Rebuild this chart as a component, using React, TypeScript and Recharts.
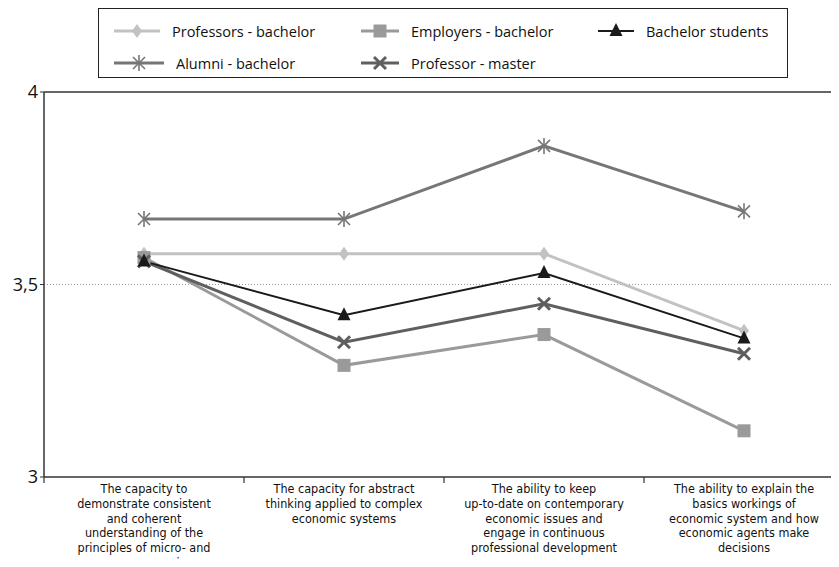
import React from "react";
import { LineChart, Line, XAxis, YAxis, ReferenceLine } from "recharts";

const skills = [
  "Consistent understanding of micro- and macroeconomics",
  "Abstract thinking",
  "Keeping up-to-date",
  "Explaining economic system",
];

const skillLabels = [
  [
    "The capacity to",
    "demonstrate consistent",
    "and coherent",
    "understanding of the",
    "principles of micro- and",
    "macroeconomics",
  ],
  ["The capacity for abstract", "thinking applied to complex", "economic systems"],
  [
    "The ability to keep",
    "up-to-date on contemporary",
    "economic issues and",
    "engage in continuous",
    "professional development",
  ],
  [
    "The ability to explain the",
    "basics workings of",
    "economic system and how",
    "economic agents make",
    "decisions",
  ],
];

const professorsBachelor = [3.58, 3.58, 3.58, 3.38];
const employersBachelor = [3.57, 3.29, 3.37, 3.12];
const bachelorStudents = [3.56, 3.42, 3.53, 3.36];
const alumniBachelor = [3.67, 3.67, 3.86, 3.69];
const professorMaster = [3.56, 3.35, 3.45, 3.32];

const yTicks = [3, 3.5, 4];

type MarkerKind = "diamond" | "square" | "triangle" | "asterisk" | "cross";

const series = [
  { key: "professorsBachelor", name: "Professors - bachelor", values: professorsBachelor, color: "#c2c2c2", width: 3, marker: "diamond" as MarkerKind },
  { key: "employersBachelor", name: "Employers - bachelor", values: employersBachelor, color: "#9a9a9a", width: 3, marker: "square" as MarkerKind },
  { key: "alumniBachelor", name: "Alumni - bachelor", values: alumniBachelor, color: "#767676", width: 3, marker: "asterisk" as MarkerKind },
  { key: "professorMaster", name: "Professor - master", values: professorMaster, color: "#5f5f5f", width: 3, marker: "cross" as MarkerKind },
  { key: "bachelorStudents", name: "Bachelor students", values: bachelorStudents, color: "#1a1a1a", width: 2, marker: "triangle" as MarkerKind },
];

const data = skills.map((skill, i) => {
  const row: any = { skill };
  series.forEach((s) => {
    row[s.key] = s.values[i];
  });
  return row;
});

const renderMarker = (kind: MarkerKind, cx: number, cy: number, color: string) => {
  switch (kind) {
    case "diamond":
      return <path d={`M${cx},${cy - 7} L${cx + 5},${cy} L${cx},${cy + 7} L${cx - 5},${cy} Z`} fill={color} />;
    case "square":
      return <rect x={cx - 6.5} y={cy - 6.5} width={13} height={13} fill={color} />;
    case "triangle":
      return <path d={`M${cx},${cy - 8} L${cx + 6.5},${cy + 5} L${cx - 6.5},${cy + 5} Z`} fill={color} />;
    case "asterisk":
      return (
        <g stroke={color} strokeWidth={1.6}>
          <line x1={cx - 6} y1={cy - 6} x2={cx + 6} y2={cy + 6} />
          <line x1={cx - 6} y1={cy + 6} x2={cx + 6} y2={cy - 6} />
          <line x1={cx} y1={cy - 8} x2={cx} y2={cy + 8} />
        </g>
      );
    case "cross":
      return (
        <g stroke={color} strokeWidth={3}>
          <line x1={cx - 6} y1={cy - 6} x2={cx + 6} y2={cy + 6} />
          <line x1={cx - 6} y1={cy + 6} x2={cx + 6} y2={cy - 6} />
        </g>
      );
  }
};

const CategoryTick = (props: any) => {
  const { x, y, index } = props;
  const lines = skillLabels[index] || [];
  return (
    <g>
      <line x1={x - 100} y1={y - 8} x2={x - 100} y2={y - 2} stroke="#333" strokeWidth={1.2} />
      <text
        x={x}
        y={y + 8}
        textAnchor="middle"
        fontSize={12.5}
        fill="#111"
        fontFamily="'Liberation Sans Narrow', 'DejaVu Sans Condensed', 'Roboto', sans-serif"
      >
        {lines.map((line, i) => (
          <tspan key={i} x={x} dy={i === 0 ? 0 : 14.8}>
            {line}
          </tspan>
        ))}
      </text>
    </g>
  );
};

const legendLayout: Record<string, { left: number; top: number; iconW: number }> = {
  professorsBachelor: { left: 15, top: 22, iconW: 46 },
  employersBachelor: { left: 262, top: 22, iconW: 38 },
  bachelorStudents: { left: 499, top: 22, iconW: 36 },
  alumniBachelor: { left: 15, top: 54, iconW: 50 },
  professorMaster: { left: 262, top: 54, iconW: 38 },
};

const ChartLegend = () => (
  <div
    style={{
      position: "absolute",
      left: 98,
      top: 8,
      width: 690,
      height: 70,
      border: "1.2px solid #222",
      boxSizing: "border-box",
      background: "#fff",
      fontFamily: "'Open Sans', 'Noto Sans', sans-serif",
      fontSize: 14.5,
      color: "#111",
    }}
  >
    {series.map((s) => {
      const pos = legendLayout[s.key];
      return (
        <div
          key={s.key}
          style={{
            position: "absolute",
            left: pos.left,
            top: pos.top - 10,
            height: 20,
            display: "flex",
            alignItems: "center",
            whiteSpace: "nowrap",
          }}
        >
          <svg width={pos.iconW} height={20} style={{ marginRight: 12 }}>
            <line x1={0} y1={10} x2={pos.iconW} y2={10} stroke={s.color} strokeWidth={s.width} />
            {renderMarker(s.marker, pos.iconW / 2, 10, s.color)}
          </svg>
          <span>{s.name}</span>
        </div>
      );
    })}
  </div>
);

const App = () => {
  return (
    <div style={{ margin: -8, width: 839, height: 567, overflow: "hidden", position: "relative", background: "#fff" }}>
      <LineChart width={860} height={567} data={data} margin={{ top: 92, right: 16, bottom: 0, left: 0 }}>
        <ReferenceLine y={3.5} stroke="#999" strokeDasharray="1 2" />
        <ReferenceLine y={4} stroke="#333" strokeWidth={1.5} />
        <XAxis
          dataKey="skill"
          scale="band"
          height={90}
          interval={0}
          axisLine={{ stroke: "#333", strokeWidth: 1.5 }}
          tickLine={false}
          tick={<CategoryTick />}
        />
        <YAxis
          domain={[3, 4]}
          ticks={yTicks}
          width={44}
          axisLine={{ stroke: "#333", strokeWidth: 1.5 }}
          tickLine={{ stroke: "#333" }}
          tickSize={4}
          tick={{ fontSize: 18, fill: "#111", fontFamily: "'Open Sans', 'Noto Sans', sans-serif" }}
          tickFormatter={(v: number) => String(v).replace(".", ",")}
        />
        {series.map((s) => (
          <Line
            key={s.key}
            dataKey={s.key}
            name={s.name}
            type="linear"
            stroke={s.color}
            strokeWidth={s.width}
            isAnimationActive={false}
            dot={(p: any) => <g key={`${s.key}-${p.index}`}>{renderMarker(s.marker, p.cx, p.cy, s.color)}</g>}
            activeDot={false}
          />
        ))}
      </LineChart>
      <ChartLegend />
    </div>
  );
};

export default App;
